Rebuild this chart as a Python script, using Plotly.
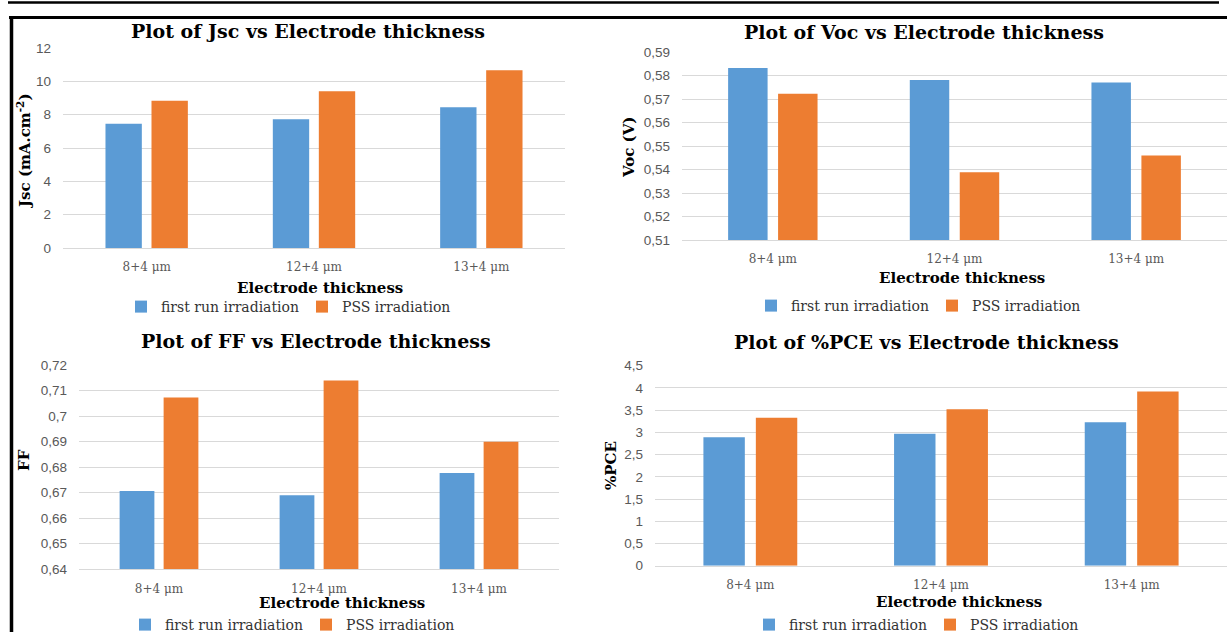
import plotly.graph_objects as go

W, H = 1227, 632

categories = ["8+4 μm", "12+4 μm", "13+4 μm"]
series_names = ["first run irradiation", "PSS irradiation"]
colors = ["#5b9bd5", "#ed7d31"]

jsc_first = [7.45, 7.73, 8.45]
jsc_pss = [8.83, 9.40, 10.66]
voc_first = [0.5833, 0.5782, 0.5771]
voc_pss = [0.5723, 0.5389, 0.5460]
ff_first = [0.6707, 0.6690, 0.6777]
ff_pss = [0.7073, 0.7139, 0.6899]
pce_first = [2.89, 2.97, 3.23]
pce_pss = [3.33, 3.52, 3.92]

titles = ["Plot of Jsc vs Electrode thickness", "Plot of Voc vs Electrode thickness",
          "Plot of FF vs Electrode thickness", "Plot of %PCE vs Electrode thickness"]
ytitles = ["Jsc (mA.cm<sup>-2</sup>)", "Voc (V)", "FF", "%PCE"]
xtitle = "Electrode thickness"

yranges = [[0, 12], [0.51, 0.59], [0.64, 0.72], [0, 4.5]]
ydticks = [2, 0.01, 0.01, 0.5]

data = [(jsc_first, jsc_pss), (voc_first, voc_pss), (ff_first, ff_pss), (pce_first, pce_pss)]

# layout in pixels: (x0, x1, ytop, ybottom)
plot_px = [(63, 565, 48, 248), (682, 1227, 52.3, 240), (79, 559, 365, 569.3), (655, 1227, 365.7, 565.7)]
title_px = [(308, 31), (924, 32), (316, 341), (926, 342)]
xtitle_px = [(320, 288), (962, 278), (342, 603), (959, 601.5)]
ytitle_px = [(24, 151), (629, 148), (24, 460), (611, 466)]
legend_px = [(302, 307), (932, 306), (306, 625), (930, 625)]

SERIF = "DejaVu Serif"
SANS = "Liberation Sans"

def px_x(x):
    return x / W

def px_y(y):
    return 1 - y / H

fig = go.Figure()
layout = dict(
    width=W, height=H, margin=dict(l=0, r=0, t=0, b=0, pad=0, autoexpand=False),
    paper_bgcolor="white", plot_bgcolor="white",
    separators=", ", barmode="group", bargap=0.45, bargroupgap=0.21,
    annotations=[], shapes=[],
)

for i in range(4):
    sfx = "" if i == 0 else str(i + 1)
    xa, ya = "x" + sfx, "y" + sfx
    leg = "legend" if i == 0 else "legend" + str(i + 1)
    for s in range(2):
        fig.add_trace(go.Bar(
            x=categories, y=data[i][s], name=series_names[s],
            marker=dict(color=colors[s], line=dict(width=0)),
            xaxis=xa, yaxis=ya, legend=leg, showlegend=True,
        ))
    x0, x1, yt, yb = plot_px[i]
    layout["xaxis" + sfx] = dict(
        domain=[px_x(x0), px_x(x1)], anchor=ya, showgrid=False, zeroline=False,
        showline=True, linecolor="#d9d9d9", linewidth=1,
        tickfont=dict(family=SERIF, size=12, color="#595959"),
        ticklabelstandoff=8, fixedrange=True, automargin=False,
    )
    layout["yaxis" + sfx] = dict(
        domain=[px_y(yb), px_y(yt)], anchor=xa, range=yranges[i],
        tick0=yranges[i][0], dtick=ydticks[i], showgrid=True, gridcolor="#d9d9d9",
        gridwidth=1, zeroline=False, showline=False,
        tickfont=dict(family=SANS, size=13.5, color="#595959"),
        ticklabelstandoff=11, fixedrange=True, automargin=False,
    )
    tx, ty = title_px[i]
    layout["annotations"].append(dict(
        text="<b>" + titles[i] + "</b>", x=px_x(tx), y=px_y(ty), xref="paper", yref="paper",
        xanchor="center", yanchor="middle", showarrow=False,
        font=dict(family=SERIF, size=19, color="#000000"),
    ))
    ax_, ay_ = xtitle_px[i]
    layout["annotations"].append(dict(
        text="<b>" + xtitle + "</b>", x=px_x(ax_), y=px_y(ay_), xref="paper", yref="paper",
        xanchor="center", yanchor="middle", showarrow=False,
        font=dict(family=SERIF, size=15, color="#000000"),
    ))
    bx, by = ytitle_px[i]
    layout["annotations"].append(dict(
        text="<b>" + ytitles[i] + "</b>", x=px_x(bx), y=px_y(by), xref="paper", yref="paper",
        xanchor="center", yanchor="middle", showarrow=False, textangle=-90,
        font=dict(family=SERIF, size=15, color="#000000"),
    ))
    lx, ly = legend_px[i]
    layout[leg] = dict(
        orientation="h", x=px_x(lx), y=px_y(ly), xanchor="center", yanchor="middle",
        xref="paper", yref="paper", bgcolor="rgba(0,0,0,0)", itemwidth=30,
        entrywidth=136, entrywidthmode="pixels",
        font=dict(family=SERIF, size=14, color="#333333"), traceorder="normal",
        itemclick=False, itemdoubleclick=False,
    )

# frame lines
layout["shapes"] = [
    dict(type="line", xref="paper", yref="paper", x0=px_x(8), x1=px_x(1219), y0=px_y(2.5), y1=px_y(2.5),
         line=dict(color="black", width=2.5)),
    dict(type="line", xref="paper", yref="paper", x0=px_x(9), x1=1, y0=px_y(17.5), y1=px_y(17.5),
         line=dict(color="black", width=3)),
    dict(type="line", xref="paper", yref="paper", x0=px_x(11.5), x1=px_x(11.5), y0=px_y(16), y1=0,
         line=dict(color="black", width=3.5)),
]

fig.update_layout(**layout)
fig.write_html(
    "out.html",
    config={"displayModeBar": False},
    post_script="document.body.style.margin='0';document.body.style.overflow='hidden';",
)
